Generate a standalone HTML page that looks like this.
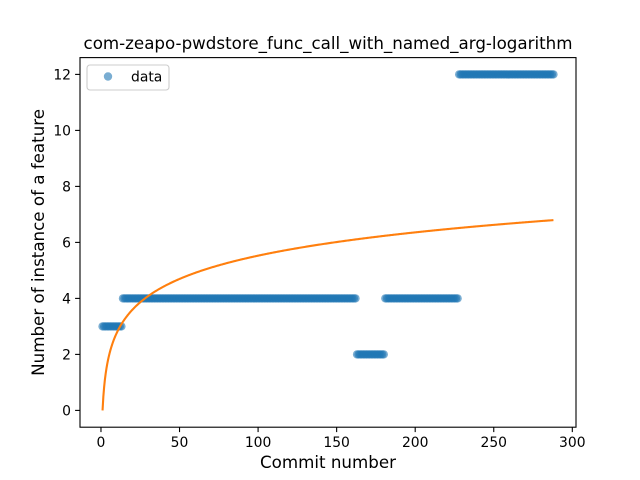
<!DOCTYPE html>
<html><head><meta charset="utf-8"><style>
html,body{margin:0;padding:0;background:#fff;}
svg{display:block;font-family:"DejaVu Sans","Liberation Sans",sans-serif;}
</style></head><body>
<svg id="chart" width="640" height="480" viewBox="0 0 640 480">
<rect width="640" height="480" fill="#fff"/>
<g id="marks"></g>
<g id="axes"></g>
</svg>
<script>
const runValues = [3, 4, 2, 4, 12];
const runStarts = [1, 14, 163, 181, 228];
const runEnds = [13, 162, 180, 227, 288];
const fitCoef = 1.2;
const xTicks = [0, 50, 100, 150, 200, 250, 300];
const yTicks = [0, 2, 4, 6, 8, 10, 12];

const L=80,R=576,T=57.6,B=427.2;
const xmin=-13.35,xmax=302.35,ymin=-0.6,ymax=12.6;
const X=v=>L+(v-xmin)/(xmax-xmin)*(R-L);
const Y=v=>B-(v-ymin)/(ymax-ymin)*(B-T);
const NS="http://www.w3.org/2000/svg";
function mk(tag,attrs,parent){const e=document.createElementNS(NS,tag);for(const k in attrs)e.setAttribute(k,attrs[k]);parent.appendChild(e);return e;}
const marks=document.getElementById('marks'), axes=document.getElementById('axes');

for(let r=0;r<runValues.length;r++){
  for(let c=runStarts[r];c<=runEnds[r];c++){
    const p=mk('circle',{cx:X(c),cy:Y(runValues[r]),r:4.2,fill:'#1f77b4','fill-opacity':0.6},marks);
    
    
  }
}
let d='';
for(let c=1;c<=288;c+=0.5){d+=(c===1?'M':'L')+X(c).toFixed(2)+','+Y(fitCoef*Math.log(c)).toFixed(2);}
const fit=mk('path',{d:d,fill:'none',stroke:'#ff7f0e','stroke-width':2.1},marks);



const frame=mk('rect',{x:L,y:T,width:R-L,height:B-T,fill:'none',stroke:'#000','stroke-width':1.1},axes);


xTicks.forEach(t=>{
  mk('line',{x1:X(t),x2:X(t),y1:B,y2:B+4.9,stroke:'#000','stroke-width':1.1},axes);
  const tx=mk('text',{x:X(t),y:B+20,'font-size':13.9,'text-anchor':'middle'},axes);
  tx.textContent=t;
  
  
});
yTicks.forEach(t=>{
  mk('line',{x1:L-4.9,x2:L,y1:Y(t),y2:Y(t),stroke:'#000','stroke-width':1.1},axes);
  const tx=mk('text',{x:L-9,y:Y(t)+5,'font-size':13.9,'text-anchor':'end'},axes);
  tx.textContent=t;
  
  
});
const title=mk('text',{x:(L+R)/2,y:49,'font-size':16.7,'text-anchor':'middle'},axes);
title.textContent='com-zeapo-pwdstore_func_call_with_named_arg-logarithm';


const xl=mk('text',{x:(L+R)/2,y:468,'font-size':16.7,'text-anchor':'middle'},axes);
xl.textContent='Commit number';


const yl=mk('text',{x:0,y:0,'font-size':16.7,'text-anchor':'middle',transform:'translate(44,'+((T+B)/2)+') rotate(-90)'},axes);
yl.textContent='Number of instance of a feature';


const lg=mk('g',{},axes);


mk('rect',{x:87,y:65,width:82,height:25,rx:3,fill:'#fff','fill-opacity':0.8,stroke:'#ccc','stroke-width':1.1},lg);
mk('circle',{cx:108,cy:76.5,r:4.2,fill:'#1f77b4','fill-opacity':0.6},lg);
const lt=mk('text',{x:131,y:81.5,'font-size':13.9},lg);
lt.textContent='data';


</script>
</body></html>
